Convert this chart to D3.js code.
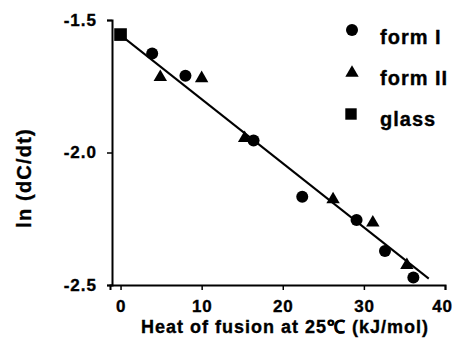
<!DOCTYPE html>
<html><head><meta charset="utf-8">
<script src="https://cdn.jsdelivr.net/npm/d3@7"></script>
<style>
html,body{margin:0;padding:0;background:#fff;}
svg{display:block;}
text{font-family:"Liberation Sans",Arial,Helvetica,sans-serif;font-weight:bold;fill:#000;stroke:#000;stroke-width:0.35px;}
</style></head>
<body>
<script>
const formIX = [3.9, 8.0, 16.4, 22.4, 29.1, 32.6, 36.1];
const formIY = [-1.626, -1.710, -1.955, -2.167, -2.255, -2.372, -2.472];
const formIIX = [4.9, 10.0, 15.3, 26.2, 31.1, 35.3];
const formIIY = [-1.716, -1.720, -1.946, -2.177, -2.265, -2.425];
const glassX = [0];
const glassY = [-1.555];
const fitX = [0, 38];
const fitY = [-1.557, -2.476];
const xTicks = [0, 10, 20, 30, 40];
const yTicks = [-1.5, -2.0, -2.5];
const yTickLabels = ["-1.5", "-2.0", "-2.5"];
const legendLabels = ["form I", "form II", "glass"];

const W = 454, H = 346;
const svg = d3.select("body").append("svg").attr("width", W).attr("height", H);
const x = d3.scaleLinear().domain([-1.3, 40]).range([110, 445]);
const y = d3.scaleLinear().domain([-2.5, -1.5]).range([285, 20]);

// x axis
const xa = svg.append("g").attr("transform", `translate(0,${y(-2.5)})`)
  .call(d3.axisBottom(x).tickValues(xTicks).tickSizeOuter(0).tickSize(5).tickPadding(10).tickFormat(d3.format("d")));
xa.select(".domain").attr("stroke-width", 2);
xa.selectAll(".tick line").attr("stroke-width", 1.5);
xa.selectAll(".tick text").attr("font-size", 17).attr("letter-spacing", 0.8).attr("font-family", null)
  .style("font-family", "'Liberation Sans',Arial,sans-serif")
  .attr("dx", (d, i) => i === xTicks.length - 1 ? -3 : 0);

// y axis
const ya = svg.append("g").attr("transform", `translate(112,0)`)
  .call(d3.axisLeft(y).tickValues(yTicks).tickSizeOuter(0).tickSize(5).tickPadding(10).tickFormat((d, i) => yTickLabels[i]));
ya.select(".domain").attr("stroke-width", 2);
ya.selectAll(".tick line").attr("stroke-width", 1.5);
ya.selectAll(".tick text").attr("font-size", 17).attr("letter-spacing", 1).attr("font-family", null).style("font-family", "'Liberation Sans',Arial,sans-serif");

// fit line
svg.append("line")
  .attr("x1", x(fitX[0])).attr("y1", y(fitY[0]))
  .attr("x2", x(fitX[1])).attr("y2", y(fitY[1]))
  .attr("stroke", "#000").attr("stroke-width", 2);

const tri = d3.symbol().type(d3.symbolTriangle).size(78);
const sq = d3.symbol().type(d3.symbolSquare).size(160);

svg.append("g").selectAll("circle").data(formIX.map((v, i) => [v, formIY[i]])).join("circle")
  .attr("cx", d => x(d[0])).attr("cy", d => y(d[1])).attr("r", 6).attr("fill", "#000");
svg.append("g").selectAll("path").data(formIIX.map((v, i) => [v, formIIY[i]])).join("path")
  .attr("d", tri).attr("transform", d => `translate(${x(d[0])},${y(d[1])})`).attr("fill", "#000");
svg.append("g").selectAll("path").data(glassX.map((v, i) => [v, glassY[i]])).join("path")
  .attr("d", sq).attr("transform", d => `translate(${x(d[0])},${y(d[1])})`).attr("fill", "#000");

// axis titles
svg.append("text").attr("x", 285).attr("y", 333).attr("text-anchor", "middle")
  .attr("font-size", 18).attr("letter-spacing", 1).text("Heat of fusion at 25℃ (kJ/mol)");
svg.append("text").attr("transform", "translate(31,178) rotate(-90)").attr("text-anchor", "middle")
  .attr("font-size", 20).attr("letter-spacing", 1.2).text("ln (dC/dt)");

// legend
const lg = svg.append("g");
lg.append("circle").attr("cx", 352).attr("cy", 30).attr("r", 6).attr("fill", "#000");
lg.append("path").attr("d", tri).attr("transform", "translate(352,73)").attr("fill", "#000");
lg.append("path").attr("d", d3.symbol().type(d3.symbolSquare).size(130)).attr("transform", "translate(351,114)").attr("fill", "#000");
const ly = [44, 85, 126];
legendLabels.forEach((t, i) => {
  lg.append("text").attr("x", 380).attr("y", ly[i]).attr("font-size", 20).attr("letter-spacing", 1).text(t);
});
</script>
</body></html>
